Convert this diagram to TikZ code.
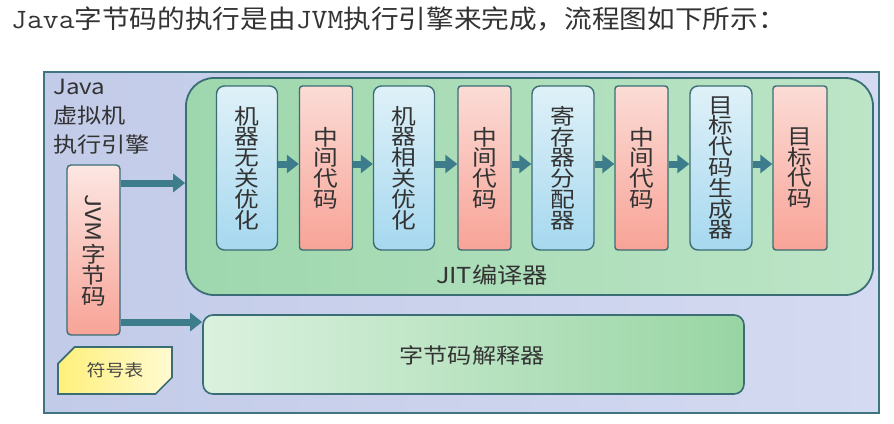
\documentclass[tikz,border=0pt]{standalone}
\usepackage{fontspec}
\newfontfamily\cjk[FakeStretch=1.15]{Noto Sans CJK SC}
\newfontfamily\cjkt[FakeStretch=1.08]{Noto Sans CJK SC}
\usetikzlibrary{arrows.meta,shapes.misc}
\definecolor{txt}{HTML}{333333}
\definecolor{outL}{HTML}{C2CBE8}
\definecolor{outR}{HTML}{D4DAF1}
\definecolor{bordc}{HTML}{3F7580}
\definecolor{jitL}{HTML}{9ED7AD}
\definecolor{jitR}{HTML}{BDE5C7}
\definecolor{jitb}{HTML}{3B6D74}
\definecolor{blueT}{HTML}{DFF1F8}
\definecolor{blueB}{HTML}{A6D8EF}
\definecolor{redT}{HTML}{FBDCD6}
\definecolor{redB}{HTML}{F8A397}
\definecolor{intL}{HTML}{DBF1DF}
\definecolor{intR}{HTML}{98D5A3}
\definecolor{symL}{HTML}{FFF07A}
\definecolor{symR}{HTML}{FFFAD2}
\definecolor{arrc}{HTML}{3D7C8B}
\newcommand{\boxfont}{\cjk\fontsize{21.5}{20.8}\selectfont}
\newcommand{\lat}[1]{{\ttfamily\fontsize{28}{30}\selectfont\scalebox{1.1}[1]{#1}}}
\tikzset{
  outerbox/.style={draw=bordc, line width=2pt, left color=outL, right color=outR},
  jitbox/.style={draw=jitb, line width=1.8pt, rounded corners=28pt, left color=jitL, right color=jitR},
  inner/.style={draw=jitb, line width=1.4pt, minimum height=164pt, inner sep=0pt, align=center, font=\boxfont, text=txt},
  bluebox/.style={inner, rounded corners=8pt, top color=blueT, bottom color=blueB, minimum width=61pt},
  redbox/.style={inner, rounded corners=3pt, top color=redT, bottom color=redB, minimum width=53pt},
  intbox/.style={draw=jitb, line width=1.6pt, rounded corners=10pt, left color=intL, right color=intR, minimum width=541pt, minimum height=79pt},
  symbox/.style={draw=jitb, line width=1.6pt, chamfered rectangle, chamfered rectangle corners={north west, south east}, chamfered rectangle xsep=9pt, chamfered rectangle ysep=9pt, left color=symL, right color=symR, minimum width=114pt, minimum height=47pt, inner sep=0pt, font=\cjk\fontsize{16.5}{18}\selectfont, text=txt!90!white},
  bigarrow/.style={draw=arrc, line width=7pt, -{Triangle[width=18pt,length=12pt]}},
  lbl/.style={font=\cjk\fontsize{21}{22}\selectfont, text=txt, inner sep=0pt},
}
\begin{document}
\begin{tikzpicture}[x=1pt,y=-1pt]
\useasboundingbox[fill=white] (0,0) rectangle (894,423);
\node[anchor=west, inner sep=0pt, text=txt] (title) at (11,19) {\cjkt\fontsize{25.6}{30}\selectfont\lat{Java}字节码的执行是由\lat{JVM}执行引擎来完成，流程图如下所示：};
\node[outerbox, minimum width=835pt, minimum height=341pt, inner sep=0pt] (outer) at (461.5,242.5) {};
\node[jitbox, minimum width=687pt, minimum height=217pt, inner sep=0pt] (jit) at (529.5,186.5) {};
\node[anchor=north west, align=left, font=\cjk\fontsize{21}{29}\selectfont, text=txt, inner sep=0pt] (vm) at (53,79) {Java\\虚拟机\\执行引擎};
\node[redbox, minimum width=53pt, minimum height=170pt, rounded corners=4pt, top color=redT!70!white] (jvm) at (93.5,250) {\rotatebox{-90}{JVM}\\[2pt]字\\节\\码};
\node[intbox] (interp) at (473.5,354.5) {};
\node[lbl] (interplbl) at (472,355) {字节码解释器};
\node[symbox] (sym) at (115,370.5) {符号表};
\node[bluebox] (b1) at (247,168) {机\\器\\无\\关\\优\\化};
\node[redbox] (r1) at (326,168) {中\\间\\代\\码};
\node[bluebox] (b2) at (404,168) {机\\器\\相\\关\\优\\化};
\node[redbox] (r2) at (484.5,168) {中\\间\\代\\码};
\node[bluebox, minimum width=62pt] (b3) at (563,168) {寄\\存\\器\\分\\配\\器};
\node[redbox] (r3) at (641.5,168) {中\\间\\代\\码};
\node[bluebox, minimum width=62pt] (b4) at (721,168) {目\\标\\代\\码\\生\\成\\器};
\node[redbox, minimum width=54pt] (r4) at (800,168) {目\\标\\代\\码};
\node[lbl, font=\cjk\fontsize{22}{24}\selectfont] (jitlbl) at (492,275) {JIT编译器};
\foreach \a/\b in {b1/r1, r1/b2, b2/r2, r2/b3, b3/r3, r3/b4, b4/r4}{
  \draw[bigarrow] ([yshift=4pt]\a.east) -- ([yshift=4pt]\b.west);
}
\draw[bigarrow] ([yshift=67pt]jvm.east) coordinate (s1) -- (s1 -| jit.west);
\draw[bigarrow] ([yshift=-72pt]jvm.east) coordinate (s2) -- (s2 -| interp.west);
\end{tikzpicture}
\end{document}
